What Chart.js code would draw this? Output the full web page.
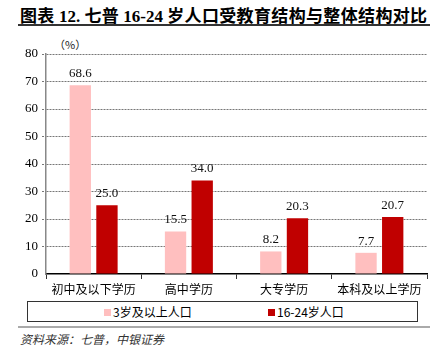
<!DOCTYPE html>
<html>
<head>
<meta charset="utf-8">
<script src="https://cdn.jsdelivr.net/npm/chart.js@4"></script>
<style>
  body { margin: 0; background: #fff; width: 438px; height: 359px; position: relative; overflow: hidden; }
  #title { position: absolute; left: 20px; top: 2px; font: bold 17px "Noto Sans CJK SC", sans-serif; color: #000; white-space: nowrap; letter-spacing: 0.35px; }
  #title .num { font-family: "Liberation Serif", serif; letter-spacing: 0; }
  #rule1 { position: absolute; left: 18px; top: 24px; width: 412px; height: 2px; background: #333; }
  #unit { position: absolute; left: 54px; top: 36px; font: 11px "Noto Sans CJK SC", sans-serif; color: #222; }
  #wrap { position: absolute; left: 0; top: 28px; width: 438px; height: 268px; }
  #legend { position: absolute; left: 27px; top: 301px; width: 389px; height: 19px; border: 1px solid #333; font: 12px "Noto Sans CJK SC", sans-serif; color: #000; }
  .item { position: absolute; top: 1px; white-space: nowrap; }
  .sw { display: inline-block; width: 7px; height: 7px; margin-right: 2px; vertical-align: 1px; }
  #rule2 { position: absolute; left: 18px; top: 326px; width: 412px; height: 2px; background: #aaa; }
  #source { position: absolute; left: 20px; top: 330px; font: italic 12px "Noto Sans CJK SC", sans-serif; color: #333; }
</style>
</head>
<body>
<div id="title">图表 <span class="num">12.</span> 七普 <span class="num">16-24</span> 岁人口受教育结构与整体结构对比</div>
<div id="rule1"></div>
<div id="unit">（%）</div>
<div id="wrap"><canvas id="barChart"></canvas></div>
<div id="legend">
  <div class="item" style="left:76px"><span class="sw" style="background:#FFBFBF"></span>3岁及以上人口</div>
  <div class="item" style="left:240px"><span class="sw" style="background:#C00000"></span>16-24岁人口</div>
</div>
<div id="rule2"></div>
<div id="source">资料来源：七普，中银证券</div>
<script>
const categories = ['初中及以下学历', '高中学历', '大专学历', '本科及以上学历'];
const allAges = [68.6, 15.5, 8.2, 7.7];
const youth = [25.0, 34.0, 20.3, 20.7];
const seriesNames = ['3岁及以上人口', '16-24岁人口'];

// value labels above each bar
const valueLabels = {
    id: 'valueLabels',
    afterDatasetsDraw(chart) {
        const ctx = chart.ctx;
        ctx.save();
        ctx.font = '13px "Liberation Serif", serif';
        ctx.fillStyle = '#111';
        ctx.textAlign = 'center';
        ctx.textBaseline = 'bottom';
        chart.data.datasets.forEach((ds, i) => {
            chart.getDatasetMeta(i).data.forEach((bar, j) => {
                ctx.fillText(ds.data[j].toFixed(1), bar.x, bar.y - 5);
            });
        });
        ctx.restore();
    }
};

const barCtx = document.getElementById('barChart').getContext('2d');

const chart = new Chart(barCtx, {
    type: 'bar',
    data: {
        labels: categories,
        datasets: [{
            label: seriesNames[0],
            data: allAges,
            backgroundColor: '#FFBFBF',
            categoryPercentage: 0.56,
            barPercentage: 0.8
        }, {
            label: seriesNames[1],
            data: youth,
            backgroundColor: '#C00000',
            categoryPercentage: 0.56,
            barPercentage: 0.8
        }]
    },
    options: {
        responsive: true,
        maintainAspectRatio: false,
        animation: false,
        layout: {
            padding: { top: 26, right: 11, left: 0, bottom: 0 }
        },
        plugins: {
            legend: { display: false },
            tooltip: { enabled: false }
        },
        scales: {
            x: {
                afterFit: s => { s.height = 22; },
                grid: {
                    offset: true,
                    drawOnChartArea: false,
                    tickLength: 5,
                    color: '#333'
                },
                border: { color: '#000', width: 1.5 },
                ticks: {
                    color: '#000',
                    padding: 3,
                    font: { family: '"Noto Sans CJK SC", sans-serif', size: 12 }
                }
            },
            y: {
                min: 0,
                max: 80,
                afterFit: s => { s.width = 46; },
                grid: {
                    color: ctx => ctx.tick && ctx.tick.value === 0 ? 'rgba(0,0,0,0)' : '#777',
                    tickLength: 4,
                    tickBorderDash: [2, 1],
                    lineWidth: 1
                },
                border: { color: '#888', width: 1.5, dash: [2, 1] },
                ticks: {
                    stepSize: 10,
                    color: '#000',
                    padding: 4,
                    font: { family: '"Liberation Serif", serif', size: 13 }
                }
            }
        }
    },
    plugins: [valueLabels]
});
</script>
</body>
</html>
